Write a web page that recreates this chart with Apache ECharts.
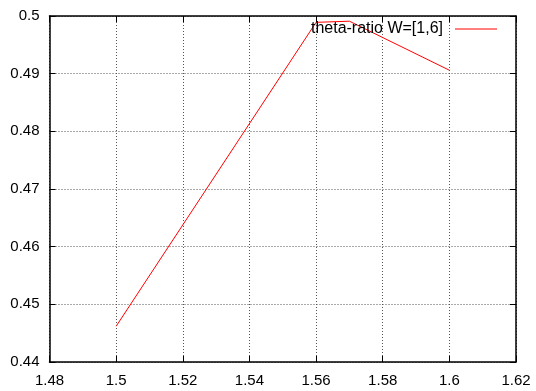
<!DOCTYPE html>
<html><head><meta charset="utf-8">
<script src="https://cdn.jsdelivr.net/npm/echarts@6/dist/echarts.min.js"></script>
<style>html,body{margin:0;padding:0;background:#fff}#c{width:536px;height:391px}</style>
</head><body><div id="c"></div>
<script>
const seriesName = 'theta-ratio W=[1,6]';
const xValues = [1.5, 1.56, 1.57, 1.6];
const yValues = [0.4462, 0.4989, 0.4991, 0.4906];
const xRange = [1.48, 1.62, 0.02];
const yRange = [0.44, 0.5, 0.01];

const font = 'Liberation Sans, Arial, sans-serif';
const chart = echarts.init(document.getElementById('c'), null, {renderer: 'canvas'});
const tickStyle = {show: true, inside: true, length: 6, lineStyle: {color: '#000', width: 1}};
const lineAxis = {show: true, lineStyle: {color: '#000', width: 1.5}};
chart.setOption({
  animation: false,
  backgroundColor: '#fff',
  grid: {left: 49.5, right: 20, top: 16, bottom: 29},
  legend: {
    data: [{name: seriesName, icon: 'rect'}],
    right: 39, top: 21, align: 'right', padding: 0,
    itemWidth: 42, itemHeight: 1, itemGap: 0,
    textStyle: {fontFamily: font, fontSize: 16, color: '#000', padding: [0, 7, 0, 0]},
    backgroundColor: 'rgba(0,0,0,0)'
  },
  xAxis: [{
    type: 'value', min: xRange[0], max: xRange[1], interval: xRange[2],
    axisLine: lineAxis, axisTick: tickStyle,
    axisLabel: {fontFamily: font, fontSize: 15, color: '#000', margin: 11},
    splitLine: {show: true, lineStyle: {color: '#555', type: [1, 2], width: 1}}
  }, {
    type: 'value', position: 'top', min: xRange[0], max: xRange[1], interval: xRange[2],
    axisLine: lineAxis, axisTick: tickStyle, axisLabel: {show: false}, splitLine: {show: false}
  }],
  yAxis: [{
    type: 'value', min: yRange[0], max: yRange[1], interval: yRange[2],
    axisLine: lineAxis, axisTick: tickStyle,
    axisLabel: {fontFamily: font, fontSize: 15, color: '#000', margin: 10},
    splitLine: {show: true, lineStyle: {color: '#555', type: [1, 2], width: 1}}
  }, {
    type: 'value', position: 'right', min: yRange[0], max: yRange[1], interval: yRange[2],
    axisLine: lineAxis, axisTick: tickStyle, axisLabel: {show: false}, splitLine: {show: false}
  }],
  series: [{
    name: seriesName, type: 'line',
    data: xValues.map((x, i) => [x, yValues[i]]),
    showSymbol: false, symbol: 'none',
    lineStyle: {color: '#ff0000', width: 1},
    itemStyle: {color: '#ff0000'}
  }]
});
</script></body></html>
